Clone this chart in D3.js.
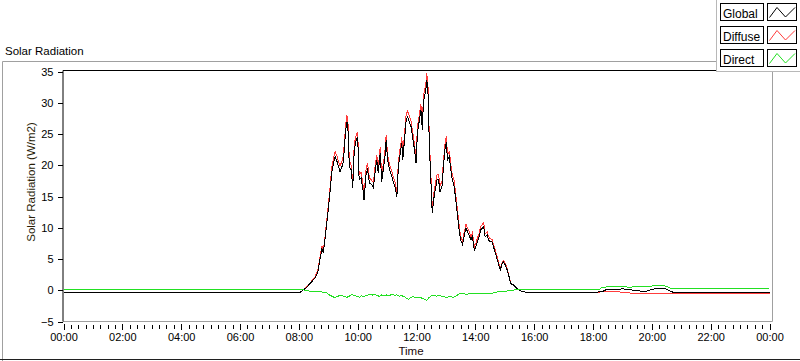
<!DOCTYPE html>
<html>
<head>
<meta charset="utf-8">
<script src="https://cdn.jsdelivr.net/npm/d3@7"></script>
<style>
  html, body { margin: 0; padding: 0; background: #fff; }
  svg { display: block; font-family: 'Liberation Sans', Arial, sans-serif; }
</style>
</head>
<body>
<div id="chart"></div>
<script>
// minutes of the day for the daytime samples (shared by Global and Diffuse)
const dayMinutes = [
  483, 493, 503, 513, 519, 524, 527, 530, 534, 537,
  540, 544, 547, 551, 554, 558, 561, 564, 568, 571,
  575, 578, 580, 583, 587, 590, 593, 597, 600, 603,
  607, 611, 613, 617, 620, 624, 629, 632, 636, 639,
  642, 646, 649, 653, 656, 658, 661, 665, 670, 673,
  676, 680, 683, 687, 690, 692, 695, 699, 702, 706,
  709, 713, 716, 719, 722, 725, 729, 732, 734, 737,
  740, 741, 744, 746, 749, 752, 755, 758, 762, 765,
  768, 772, 775, 778, 781, 783, 787, 790, 793, 797,
  800, 804, 807, 810, 814, 817, 821, 824, 827, 831,
  834, 838, 841, 844, 848, 851, 857, 860, 864, 867,
  870, 874, 877, 880, 884, 887, 891, 894, 897, 901,
  904, 908, 911, 914, 918, 921, 925, 930, 942,
];
const globalDay = [
  -0.27, 0.3, 1.1, 2.0, 3.0, 5.4, 6.6, 6.0, 8.6, 10.8,
  12.9, 16.0, 18.8, 20.4, 21.4, 20.6, 19.8, 19.0, 19.8, 20.6,
  25.2, 27.0, 26.2, 19.8, 19.3, 16.4, 22.5, 24.0, 24.6, 17.7,
  18.0, 16.0, 14.5, 18.4, 19.5, 17.2, 16.9, 16.4, 19.3, 20.9,
  18.8, 22.0, 17.4, 19.8, 21.7, 24.0, 20.9, 19.3, 18.2, 17.2,
  16.6, 15.0, 19.8, 22.0, 23.6, 20.9, 23.6, 27.3, 27.8, 26.8,
  26.2, 24.0, 22.5, 20.4, 25.2, 26.8, 28.9, 25.7, 30.0, 31.3,
  32.6, 33.7, 31.0, 23.6, 18.2, 12.4, 14.5, 16.0, 17.7, 17.7,
  15.8, 16.6, 19.8, 22.5, 23.8, 20.9, 21.4, 19.3, 17.7, 16.6,
  14.5, 11.8, 9.7, 8.1, 7.3, 8.6, 10.0, 9.4, 8.9, 8.1,
  8.6, 6.5, 7.0, 7.8, 8.6, 9.7, 10.2, 8.6, 8.9, 8.1,
  7.8, 7.8, 7.0, 6.2, 5.1, 4.3, 3.3, 4.1, 4.6, 4.1,
  3.5, 2.5, 1.4, 0.9, 0.9, 0.6, 0.3, 0.0, -0.28,
];
const diffuseDay = [
  -0.35, 0.35, 1.2, 2.2, 3.3, 5.8, 7.1, 6.4, 9.0, 11.3,
  13.5, 16.7, 19.6, 21.3, 22.2, 21.5, 20.6, 19.9, 20.7, 21.6,
  26.0, 28.1, 27.2, 20.7, 20.0, 17.1, 23.4, 24.9, 25.4, 18.5,
  18.9, 16.8, 15.2, 19.3, 20.4, 18.0, 17.6, 17.2, 20.2, 21.7,
  19.6, 22.9, 18.2, 20.6, 22.6, 24.8, 21.7, 20.1, 19.0, 18.0,
  17.4, 15.7, 20.6, 22.9, 24.5, 21.8, 24.4, 28.2, 28.7, 27.8,
  27.0, 24.9, 23.3, 21.3, 26.2, 27.7, 29.8, 26.6, 31.0, 32.3,
  33.6, 34.8, 32.0, 24.5, 19.1, 13.2, 15.3, 16.9, 18.6, 18.5,
  16.7, 17.5, 20.7, 23.4, 24.7, 21.8, 22.2, 20.2, 18.5, 17.5,
  15.3, 12.6, 10.4, 8.7, 7.9, 9.2, 10.6, 10.0, 9.5, 8.6,
  9.2, 7.0, 7.5, 8.3, 9.2, 10.3, 10.8, 9.1, 9.4, 8.6,
  8.3, 8.2, 7.4, 6.6, 5.5, 4.6, 3.5, 4.3, 4.8, 4.3,
  3.7, 2.6, 1.5, 1.0, 0.9, 0.6, 0.3, 0.0, -0.28,
];

const globalEveningMinutes = [1013, 1090, 1101, 1108, 1129, 1142, 1162, 1176, 1190, 1203, 1217, 1227, 1234, 1244, 1440];
const globalEvening = [-0.28, -0.25, -0.1, 0.17, 0.2, 0.25, 0.05, -0.1, -0.1, 0.22, 0.33, 0.3, 0.0, -0.3, -0.3];
const diffuseEveningMinutes = [1013, 1090, 1101, 1108, 1129, 1150, 1162, 1440];
const diffuseEvening = [-0.28, -0.28, -0.2, -0.15, -0.2, -0.35, -0.5, -0.5];

const directMinutes = [
  0, 483, 488, 496, 502, 509, 516, 524, 530, 537,
  542, 547, 552, 558, 563, 568, 573, 578, 583, 588,
  593, 598, 604, 608, 612, 618, 625, 631, 635, 639,
  645, 649, 653, 658, 662, 666, 672, 676, 680, 685,
  690, 695, 699, 704, 709, 714, 720, 727, 733, 737,
  741, 745, 750, 755, 761, 768, 775, 782, 788, 795,
  802, 809, 816, 823, 830, 836, 843, 850, 857, 864,
  870, 877, 884, 891, 898, 904, 911, 918, 925, 931,
  1094, 1098, 1115, 1135, 1156, 1169, 1183, 1196, 1207, 1217,
  1227, 1234, 1241, 1440,
];
const directValues = [
  0.18, 0.18, 0.12, -0.05, -0.1, -0.2, -0.15, -0.2, -0.3, -0.4,
  -0.7, -0.9, -1.1, -1.0, -0.8, -0.85, -1.0, -1.1, -0.9, -0.6,
  -0.8, -0.9, -1.1, -0.85, -1.0, -0.8, -0.6, -0.75, -0.6, -0.8,
  -0.95, -0.7, -0.85, -0.7, -0.9, -0.75, -0.6, -0.8, -0.7, -0.9,
  -0.85, -1.0, -1.2, -1.4, -1.1, -1.0, -1.2, -1.1, -1.3, -1.4,
  -1.6, -1.2, -0.9, -0.75, -0.9, -0.85, -1.0, -1.1, -0.95, -1.1,
  -0.8, -0.5, -0.55, -0.6, -0.45, -0.5, -0.55, -0.5, -0.45, -0.5,
  -0.45, -0.4, -0.25, -0.1, -0.15, -0.1, -0.05, 0.06, 0.12, 0.18,
  0.22, 0.5, 0.6, 0.68, 0.5, 0.68, 0.62, 0.68, 0.75, 0.8,
  0.72, 0.5, 0.3, 0.25,
];

const yTicks = [-5, 0, 5, 10, 15, 20, 25, 30, 35];
const xTickLabels = ['00:00', '02:00', '04:00', '06:00', '08:00', '10:00', '12:00', '14:00', '16:00', '18:00', '20:00', '22:00', '00:00'];
const legendNames = ['Global', 'Diffuse', 'Direct'];

const WIDTH = 800;
const HEIGHT = 361;
const PLOT_LEFT = 63.5;
const PLOT_RIGHT = 769.5;
const PLOT_EDGE_RIGHT = 772.5;
const PLOT_TOP = 70.5;
const PLOT_BOTTOM = 321.5;
const COLORS = { Global: '#000000', Diffuse: '#ff3c3c', Direct: '#22e022' };

function toPoints(minutes, values) {
  return minutes.map((m, i) => ({ m, v: values[i] }));
}

const series = [
  { name: 'Diffuse', points: toPoints([0, ...dayMinutes, ...diffuseEveningMinutes], [-0.35, ...diffuseDay, ...diffuseEvening]) },
  { name: 'Global', points: toPoints([0, ...dayMinutes, ...globalEveningMinutes], [-0.27, ...globalDay, ...globalEvening]) },
  { name: 'Direct', points: toPoints(directMinutes, directValues) },
];

const svg = d3.select('#chart').append('svg').attr('width', WIDTH).attr('height', HEIGHT);

const x = d3.scaleLinear().domain([0, 1440]).range([PLOT_LEFT, PLOT_RIGHT]);
const y = d3.scaleLinear().domain([-5, 35]).range([321.7, 71.7]);

drawFrame();
drawAxes();
drawLines();
drawLegend();

function drawFrame() {
  svg.append('line').attr('x1', 2.5).attr('x2', 717).attr('y1', 61.5).attr('y2', 61.5).attr('stroke', '#a0a0a0');
  svg.append('line').attr('x1', 2.5).attr('x2', 2.5).attr('y1', 61.5).attr('y2', HEIGHT).attr('stroke', '#a0a0a0');
  svg.append('line').attr('x1', 0).attr('x2', WIDTH).attr('y1', 359.5).attr('y2', 359.5).attr('stroke', '#202020');

  svg.append('text').attr('x', 5).attr('y', 55).attr('font-size', '11.5px').attr('fill', '#000').text('Solar Radiation');

  // plot border
  svg.append('line').attr('x1', PLOT_LEFT - 0.5).attr('x2', PLOT_EDGE_RIGHT).attr('y1', PLOT_TOP).attr('y2', PLOT_TOP).attr('stroke', '#000');
  svg.append('line').attr('x1', PLOT_EDGE_RIGHT).attr('x2', PLOT_EDGE_RIGHT).attr('y1', PLOT_TOP).attr('y2', PLOT_BOTTOM).attr('stroke', '#a0a0a0');
  svg.append('line').attr('x1', PLOT_LEFT - 0.5).attr('x2', PLOT_EDGE_RIGHT).attr('y1', PLOT_BOTTOM).attr('y2', PLOT_BOTTOM).attr('stroke', '#a0a0a0');
  svg.append('line').attr('x1', PLOT_LEFT - 0.5).attr('x2', PLOT_LEFT - 0.5).attr('y1', PLOT_TOP).attr('y2', PLOT_BOTTOM).attr('stroke', '#000');
}

function drawAxes() {
  const yAxis = svg.append('g')
    .attr('transform', `translate(${PLOT_LEFT - 1},0)`)
    .call(d3.axisLeft(y).tickValues(yTicks).tickSize(5).tickPadding(4).tickSizeOuter(0));
  yAxis.select('.domain').remove();
  yAxis.selectAll('text').attr('font-size', '11px').attr('fill', '#000').attr('font-family', 'Liberation Sans, Arial, sans-serif');
  yAxis.selectAll('line').attr('stroke', '#000').attr('shape-rendering', 'crispEdges');

  const minorTicks = d3.range(0, 1441, 15).filter((m) => m % 120 !== 0);
  const xMinor = svg.append('g')
    .attr('transform', `translate(0,${PLOT_BOTTOM + 3})`)
    .call(d3.axisBottom(x).tickValues(minorTicks).tickSize(4).tickFormat('').tickSizeOuter(0));
  xMinor.select('.domain').remove();
  xMinor.selectAll('line').attr('stroke', '#000').attr('shape-rendering', 'crispEdges');

  const xAxis = svg.append('g')
    .attr('transform', `translate(0,${PLOT_BOTTOM + 2})`)
    .call(d3.axisBottom(x)
      .tickValues(d3.range(0, 1441, 120))
      .tickSize(6)
      .tickPadding(4)
      .tickSizeOuter(0)
      .tickFormat((d, i) => xTickLabels[i]));
  xAxis.select('.domain').remove();
  xAxis.selectAll('text').attr('font-size', '11px').attr('fill', '#000').attr('font-family', 'Liberation Sans, Arial, sans-serif');
  xAxis.selectAll('line').attr('stroke', '#000').attr('shape-rendering', 'crispEdges');

  svg.append('text')
    .attr('transform', 'translate(35,182) rotate(-90)')
    .attr('text-anchor', 'middle')
    .attr('font-size', '11.5px')
    .attr('fill', '#2a1e08')
    .text('Solar Radiation (W/m2)');

  svg.append('text')
    .attr('x', 411)
    .attr('y', 355)
    .attr('text-anchor', 'middle')
    .attr('font-size', '11.5px')
    .attr('fill', '#1a0a0a')
    .text('Time');
}

function drawLines() {
  svg.append('clipPath').attr('id', 'plot-clip')
    .append('rect')
    .attr('x', PLOT_LEFT).attr('y', PLOT_TOP + 0.5)
    .attr('width', PLOT_EDGE_RIGHT - PLOT_LEFT - 0.5).attr('height', PLOT_BOTTOM - PLOT_TOP - 1);

  const line = d3.line().x((d) => x(d.m)).y((d) => y(d.v));
  const group = svg.append('g').attr('clip-path', 'url(#plot-clip)');

  series.forEach((s) => {
    group.append('path')
      .datum(s.points)
      .attr('d', line)
      .attr('fill', 'none')
      .attr('stroke', COLORS[s.name])
      .attr('stroke-width', 1)
      .attr('shape-rendering', 'crispEdges');
  });
}

function drawLegend() {
  const legend = svg.append('g');
  legend.append('rect').attr('x', 717).attr('y', -1).attr('width', 90).attr('height', 72.5).attr('fill', '#fff');
  legend.append('line').attr('x1', 716.5).attr('x2', 716.5).attr('y1', 0).attr('y2', 72).attr('stroke', '#b8b8b8');
  legend.append('line').attr('x1', 716.5).attr('x2', WIDTH).attr('y1', 71.5).attr('y2', 71.5).attr('stroke', '#b8b8b8');

  legendNames.forEach((name, i) => {
    const top = 3.5 + i * 23;
    legend.append('rect').attr('x', 720.5).attr('y', top).attr('width', 43).attr('height', 17)
      .attr('fill', '#fff').attr('stroke', '#000');
    legend.append('text').attr('x', 723).attr('y', top + 14).attr('font-size', '12px').attr('fill', '#000').text(name);
    legend.append('rect').attr('x', 767.5).attr('y', top).attr('width', 29).attr('height', 17)
      .attr('fill', '#fff').attr('stroke', '#000');
    legend.append('polyline')
      .attr('points', [[769.5, top + 14], [777, top + 4], [785.5, top + 13.5], [795, top + 4]].map((p) => p.join(',')).join(' '))
      .attr('fill', 'none')
      .attr('stroke', COLORS[name])
      .attr('stroke-width', 1);
  });
}
</script>
</body>
</html>
